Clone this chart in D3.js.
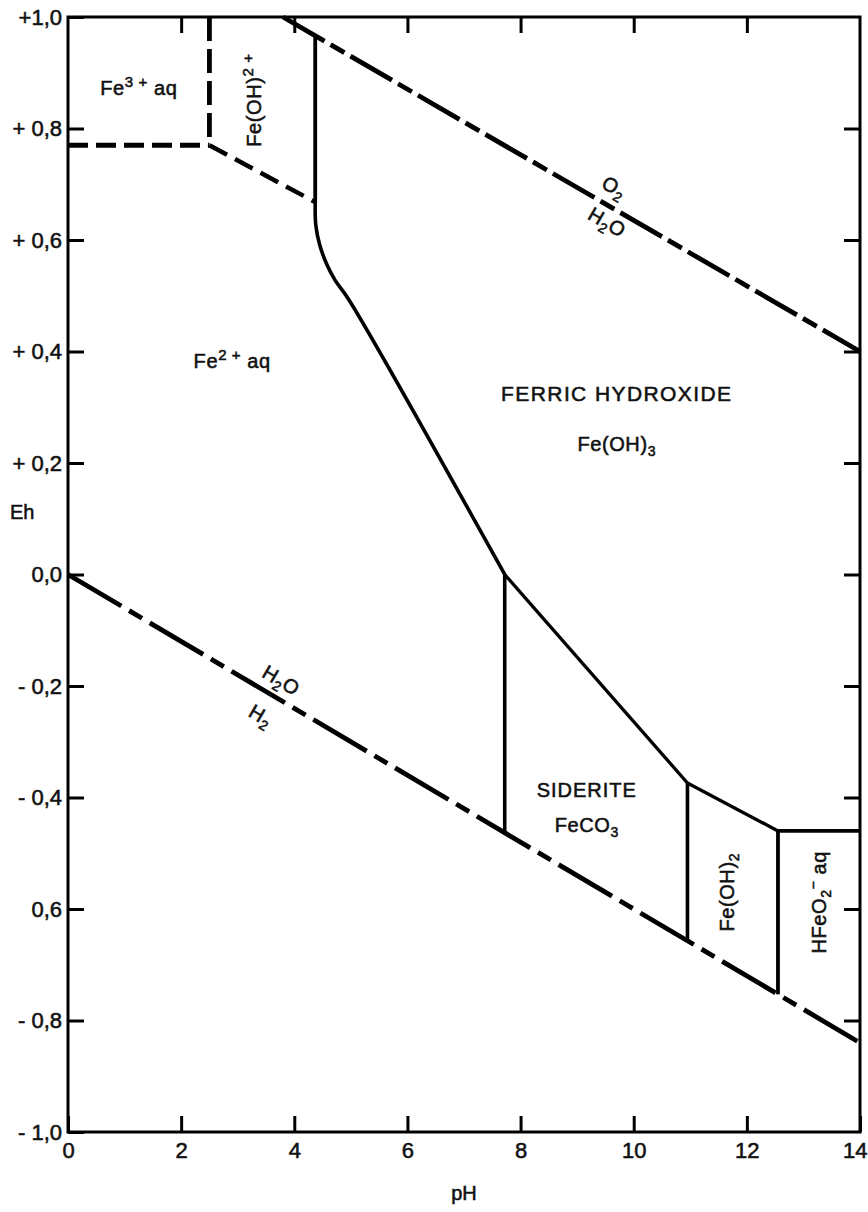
<!DOCTYPE html>
<html>
<head>
<meta charset="utf-8">
<script src="https://cdn.jsdelivr.net/npm/d3@7/dist/d3.min.js"></script>
<style>
  html, body { margin: 0; padding: 0; background: #fff; }
  svg { display: block; }
  text { font-family: "Liberation Sans", Arial, sans-serif; fill: #111; stroke: #111; stroke-width: 0.55px; }
</style>
</head>
<body>
<svg id="chart" width="868" height="1212"></svg>
<script>
// ---------- data ----------
const phTicks = [0, 2, 4, 6, 8, 10, 12, 14];
const phTickLabels = ["0", "2", "4", "6", "8", "10", "12", "14"];
const ehTicks = [-1.0, -0.8, -0.6, -0.4, -0.2, 0.0, 0.2, 0.4, 0.6, 0.8, 1.0];
const ehTickLabels = ["- 1,0", "- 0,8", "0,6", "- 0,4", "- 0,2", "0,0", "+ 0,2", "+ 0,4", "+ 0,6", "+ 0,8", "+1,0"];

// water stability limits
const o2H2O = [[3.80, 1.00], [14, 0.40]];
const h2oH2 = [[0, 0.00], [14, -0.84]];

// dashed boundaries (aqueous species)
const fe3Fe2 = [[0, 0.77], [2.5, 0.77]];
const fe3FeOH = [[2.5, 1.00], [2.5, 0.77]];
const feOHFe2 = [[2.5, 0.77], [4.37, 0.668]];

// solid boundaries
const feOHFerric = [[4.37, 0.966], [4.37, 0.668]];
const fe2Ferric = [[4.37, 0.668], [4.38, 0.627], [4.45, 0.591], [4.58, 0.555], [4.72, 0.528], [4.97, 0.492], [7.72, 0.0]];
const fe2Siderite = [[7.72, 0.0], [7.72, -0.463]];
const sideriteFerric = [[7.72, 0.0], [10.95, -0.374]];
const sideriteFeOH2 = [[10.95, -0.374], [10.95, -0.657]];
const feOH2Ferric = [[10.95, -0.374], [12.55, -0.46]];
const feOH2HFeO2 = [[12.55, -0.46], [12.55, -0.753]];
const hfeo2Ferric = [[12.55, -0.46], [14, -0.46]];

// ---------- layout ----------
const svg = d3.select("#chart");
const x = d3.scaleLinear().domain([0, 14]).range([68, 860]);
const y = d3.scaleLinear().domain([-1, 1]).range([1132, 17]);
const line = d3.line().x(d => x(d[0])).y(d => y(d[1]));
const curved = d3.line().x(d => x(d[0])).y(d => y(d[1])).curve(d3.curveCatmullRom.alpha(0.5));

const plot = svg.append("g");

// frame
plot.append("rect")
  .attr("x", x(0)).attr("y", y(1))
  .attr("width", x(14) - x(0)).attr("height", y(-1) - y(1))
  .attr("fill", "none").attr("stroke", "#000").attr("stroke-width", 3);

// axes with inward ticks
const tickLen = 16;
const styleAxis = g => {
  g.select(".domain").remove();
  g.selectAll(".tick line").attr("stroke", "#000").attr("stroke-width", 3);
  g.selectAll(".tick text").style("font-family", "Liberation Sans, Arial, sans-serif")
    .style("font-size", "22px").attr("fill", "#111");
};
const bottomAxis = d3.axisBottom(x).tickValues(phTicks)
  .tickFormat((d, i) => phTickLabels[i]).tickSizeInner(-tickLen).tickSizeOuter(0).tickPadding(10);
const bg = plot.append("g").attr("transform", `translate(0,${y(-1)})`).call(bottomAxis).call(styleAxis);
bg.selectAll(".tick text").filter(d => d === 14).attr("text-anchor", "end").attr("dx", 7);

const topAxis = d3.axisTop(x).tickValues(phTicks.slice(1, -1))
  .tickFormat("").tickSizeInner(-tickLen).tickSizeOuter(0);
plot.append("g").attr("transform", `translate(0,${y(1)})`).call(topAxis).call(styleAxis);

const leftAxis = d3.axisLeft(y).tickValues(ehTicks)
  .tickFormat((d, i) => ehTickLabels[i]).tickSizeInner(-tickLen).tickSizeOuter(0).tickPadding(6);
plot.append("g").attr("transform", `translate(${x(0)},0)`).call(leftAxis).call(styleAxis);

const rightAxis = d3.axisRight(y).tickValues(ehTicks.slice(1, -1))
  .tickFormat("").tickSizeInner(-tickLen).tickSizeOuter(0);
plot.append("g").attr("transform", `translate(${x(14)},0)`).call(rightAxis).call(styleAxis);

// ---------- boundaries ----------
const drawPath = (data, gen, width, dash) => {
  const p = plot.append("path").datum(data).attr("d", gen)
    .attr("fill", "none").attr("stroke", "#000")
    .attr("stroke-width", width).attr("stroke-linejoin", "round");
  if (dash) p.attr("stroke-dasharray", dash);
  return p;
};

drawPath(o2H2O, line, 4.8, "48,7,16,7");
drawPath(h2oH2, line, 4.8, "62,9,15,9");
drawPath(fe3Fe2, line, 4.8, "20,8");
drawPath(fe3FeOH, line, 4.8, "24,8");
drawPath(feOHFe2, line, 4.5, "20,9");

drawPath(feOHFerric, line, 3.8);
drawPath(fe2Ferric, curved, 3.6);
drawPath(fe2Siderite, line, 3.6);
drawPath(sideriteFerric, line, 3.3);
drawPath(sideriteFeOH2, line, 3.6);
drawPath(feOH2Ferric, line, 3.3);
drawPath(feOH2HFeO2, line, 3.8);
drawPath(hfeo2Ferric, line, 3.8);

// ---------- labels ----------
// parts: [text, mode] where mode: "" normal, "sup", "sub"
function label(px, py, parts, opts = {}) {
  const size = opts.size || 19;
  const t = plot.append("text")
    .attr("transform", `translate(${px},${py}) rotate(${opts.rotate || 0})`)
    .attr("text-anchor", opts.anchor || "middle")
    .attr("dy", opts.dy || 0)
    .style("font-size", size + "px")
    .style("letter-spacing", (opts.ls !== undefined ? opts.ls : 0.6) + "px");
  let shift = 0;
  parts.forEach(([s, mode]) => {
    const ts = t.append("tspan").text(s);
    let target = 0;
    if (mode === "sup") target = -0.40 * size;
    if (mode === "sub") target = 0.25 * size;
    if (target !== shift) { ts.attr("dy", target - shift); shift = target; }
    if (mode) ts.style("font-size", (size * (opts.small || 0.7)) + "px");
  });
  return t;
}

const slopeUp = Math.atan2(y(0.40) - y(1.0), x(14) - x(3.80)) * 180 / Math.PI;
const slopeLow = Math.atan2(y(-0.84) - y(0), x(14) - x(0)) * 180 / Math.PI;

label(x(0.57), y(0.86), [["Fe"], ["3 +", "sup"], [" aq"]], { anchor: "start", size: 20, small: 0.75 });
label(x(3.45), y(0.851), [["Fe(OH)"], ["2 +", "sup"]], { rotate: -90, dy: "-0.1em", size: 20, small: 0.75 });
label(x(9.66), y(0.695), [["O"], ["2", "sub"]], { rotate: slopeUp, dy: "0.35em", size: 20 });
label(x(9.53), y(0.632), [["H"], ["2", "sub"], ["O"]], { rotate: slopeUp, dy: "0.35em", size: 20 });
label(x(2.22), y(0.37), [["Fe"], ["2 +", "sup"], [" aq"]], { anchor: "start", size: 20, small: 0.75 });
label(x(9.70), y(0.311), [["FERRIC HYDROXIDE"]], { size: 21, ls: 1.4 });
label(x(9.70), y(0.2215), [["Fe(OH)"], ["3", "sub"]], { size: 20 });
label(10, y(0.1), [["Eh"]], { anchor: "start", size: 20, ls: 0 });
label(x(3.77), y(-0.190), [["H"], ["2", "sub"], ["O"]], { rotate: slopeLow, dy: "0.35em", size: 20 });
label(x(3.41), y(-0.253), [["H"], ["2", "sub"]], { rotate: slopeLow, dy: "0.35em", size: 20 });
label(x(9.17), y(-0.399), [["SIDERITE"]], { size: 20, ls: 1 });
label(x(9.17), y(-0.462), [["FeCO"], ["3", "sub"]], { size: 20 });
label(x(11.81), y(-0.570), [["Fe(OH)"], ["2", "sub"]], { rotate: -90, size: 20, dy: "-0.1em" });
label(x(13.44), y(-0.588), [["HFeO"], ["2", "sub"], ["\u2212", "sup"], [" aq"]], { rotate: -90, size: 20, dy: "-0.1em" });
label((x(0) + x(14)) / 2, 1200, [["pH"]], { size: 20, ls: 0 });
</script>
</body>
</html>
